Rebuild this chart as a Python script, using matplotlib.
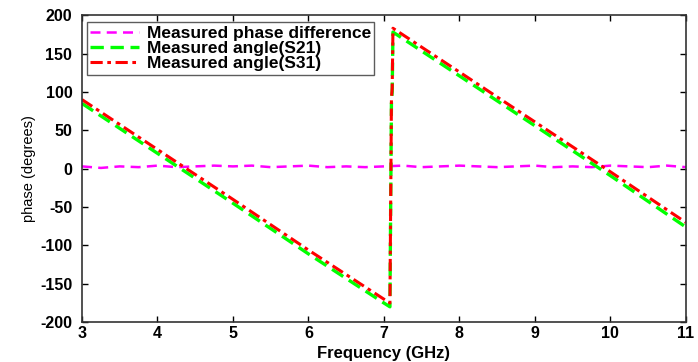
"""Measured phase of S21/S31 and their difference versus frequency."""

import matplotlib

matplotlib.use("Agg")
import matplotlib.pyplot as plt

plt.rcParams["font.family"] = ["Liberation Sans", "DejaVu Sans"]
plt.rcParams["axes.unicode_minus"] = False

# phase difference, sampled every 0.25 GHz
diff_freq = [3.0, 3.25, 3.5, 3.75, 4.0, 4.25, 4.5, 4.75, 5.0, 5.25, 5.5, 5.75,
             6.0, 6.25, 6.5, 6.75, 7.0, 7.25, 7.5, 7.75, 8.0, 8.25, 8.5, 8.75,
             9.0, 9.25, 9.5, 9.75, 10.0, 10.25, 10.5, 10.75, 11.0]
phase_diff = [3, 1, 3, 2, 4, 2, 3, 4, 3, 4, 2, 3,
              4, 2, 3, 2, 3, 4, 2, 3, 4, 3, 2, 3,
              4, 2, 3, 2, 4, 3, 2, 4, 2]

s21_freq = [3.0, 4.0, 5.0, 6.0, 7.0, 7.08, 7.1, 7.11, 7.12, 8.0, 9.0, 10.0, 11.0]
s21_angle = [85, 20, -45, -111, -175, -180, 88, 100, 178, 121, 56, -9, -76]

s31_freq = [3.0, 4.0, 5.0, 6.0, 7.0, 7.08, 7.1, 7.11, 7.12, 8.0, 9.0, 10.0, 11.0]
s31_angle = [90, 25, -40, -106, -170, -175, 92, 105, 183, 126, 61, -4, -70]


def main() -> None:
    fig = plt.figure(figsize=(6.98, 3.62), dpi=100)
    ax = fig.add_axes([0.1175, 0.11, 0.865, 0.848])

    ax.plot(diff_freq, phase_diff, color="#ff00ff", linestyle=(0, (4, 2.5)),
            linewidth=1.8, label="Measured phase difference")
    ax.plot(s21_freq, s21_angle, color="#00ff00", linestyle=(0, (4, 2)),
            linewidth=2.4, label="Measured angle(S21)")
    ax.plot(s31_freq, s31_angle, color="#ff0000", linestyle=(0, (4, 1.5, 1.2, 1.5)),
            linewidth=2.2, label="Measured angle(S31)")

    ax.set_xlim(3, 11)
    ax.set_ylim(-200, 200)
    ax.set_xticks(range(3, 12))
    ax.set_yticks(range(-200, 201, 50))
    ax.tick_params(direction="in", top=True, right=True, length=4, width=1,
                   labelsize=11.5)
    ax.tick_params(axis="x", pad=3)
    ax.tick_params(axis="y", pad=7)
    for label in ax.get_xticklabels() + ax.get_yticklabels():
        label.set_fontweight("bold")
    for spine in ax.spines.values():
        spine.set_linewidth(1.2)
        spine.set_color("#333333")

    ax.set_xlabel("Frequency (GHz)", fontsize=12, fontweight="bold", labelpad=3)
    ax.set_ylabel("phase (degrees)", fontsize=10.5, labelpad=3)

    leg = ax.legend(loc="upper left", bbox_to_anchor=(0.008, 0.977),
                    prop={"weight": "bold", "size": 12.5}, frameon=True,
                    fancybox=False, edgecolor="#333333", handlelength=2.8,
                    borderpad=0.2, labelspacing=0.0, handletextpad=0.45,
                    borderaxespad=0.0)
    leg.get_frame().set_linewidth(1.0)

    fig.savefig("out.png", dpi=100)
    plt.close(fig)


if __name__ == "__main__":
    main()
